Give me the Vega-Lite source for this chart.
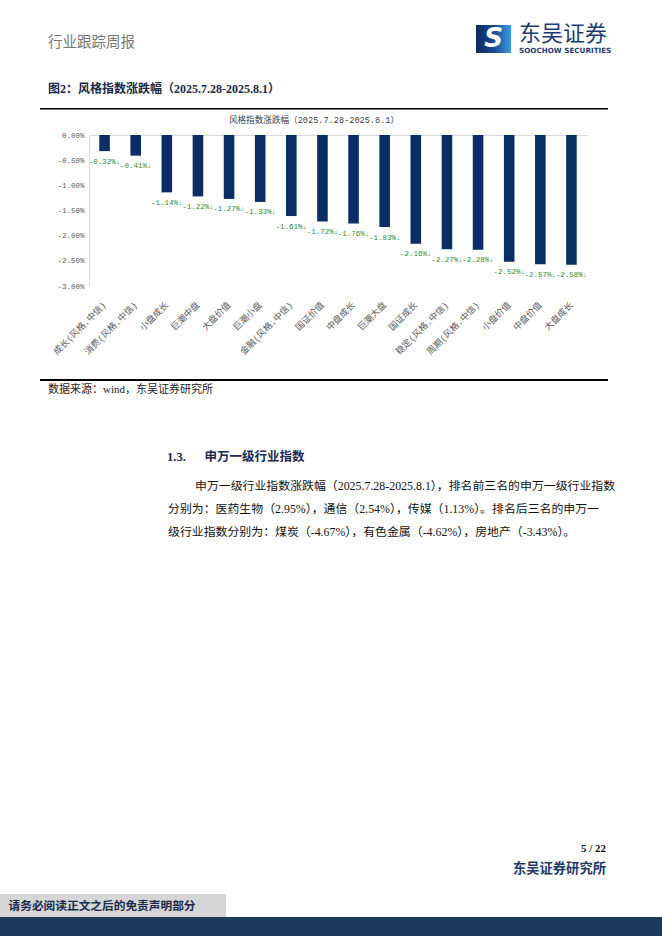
{
  "$schema": "https://vega.github.io/schema/vega-lite/v6.json",
  "padding": 0,
  "background": "#ffffff",
  "spacing": 0,
  "config": {
    "view": {"stroke": null},
    "locale": {"number": {"decimal": ".", "thousands": ",", "grouping": [3], "currency": ["", "%↓"], "minus": "-"}}
  },
  "vconcat": [
    {"hconcat": [
      {"width": 47, "height": 70, "data": {"values": []}, "mark": "text"},
      {"vconcat": [
        {"width": 429, "height": 33, "data": {"values": []}, "mark": "text"},
        {"width": 2, "height": 20, "data": {"values": [{"t": "行业跟踪周报"}]}, "mark": {"type": "text", "align": "left", "baseline": "middle", "font": "Noto Sans CJK SC", "fontSize": 14.5, "color": "#777777"}, "encoding": {"text": {"field": "t"}}}
      ], "spacing": 0, "bounds": "flush"},
      {"vconcat": [
        {"width": 35, "height": 25, "data": {"values": []}, "mark": "text"},
        {"width": 35, "height": 28, "data": {"values": [{"t": "S"}]}, "layer": [
          {"mark": {"type": "rect", "color": {"gradient": "linear", "x1": 0, "y1": 0, "x2": 1, "y2": 0, "stops": [{"offset": 0, "color": "#0d2a5e"}, {"offset": 0.5, "color": "#17488f"}, {"offset": 1, "color": "#3d9be0"}]}}, "encoding": {}},
          {"mark": {"type": "text", "align": "center", "baseline": "middle", "font": "DejaVu Sans", "fontSize": 26, "fontWeight": "bold", "fontStyle": "italic", "color": "#ffffff"}, "encoding": {"text": {"field": "t"}}}
        ]}
      ], "spacing": 0, "bounds": "flush"},
      {"width": 7, "height": 70, "data": {"values": []}, "mark": "text"},
      {"vconcat": [
        {"width": 2, "height": 22, "data": {"values": []}, "mark": "text"},
        {"width": 2, "height": 24, "data": {"values": [{"t": "东吴证券"}]}, "mark": {"type": "text", "align": "left", "baseline": "middle", "font": "Noto Sans CJK SC", "fontSize": 22, "color": "#1d3a73"}, "encoding": {"text": {"field": "t"}}},
        {"width": 2, "height": 10, "data": {"values": [{"t": "SOOCHOW SECURITIES"}]}, "mark": {"type": "text", "align": "left", "baseline": "middle", "font": "DejaVu Sans", "fontSize": 7.2, "fontWeight": "bold", "color": "#1d3a73"}, "encoding": {"text": {"field": "t"}}}
      ], "spacing": 0, "bounds": "flush"}
    ], "spacing": 0},
    {"hconcat": [
      {"width": 47, "height": 38, "data": {"values": []}, "mark": "text"},
      {"width": 2, "height": 38, "data": {"values": [{"t": "图2：风格指数涨跌幅（2025.7.28-2025.8.1）"}]}, "mark": {"type": "text", "align": "left", "baseline": "middle", "font": "Liberation Serif, Noto Sans CJK SC", "fontSize": 12, "fontWeight": "bold", "color": "#1a2846"}, "encoding": {"text": {"field": "t"}}}
    ], "spacing": 0, "bounds": "flush"},
    {"hconcat": [
      {"width": 40, "height": 1.5, "data": {"values": []}, "mark": "text"},
      {"width": 568, "height": 1.5, "data": {"values": [{"k": "rule"}]}, "mark": {"type": "rect", "color": "#000000"}, "encoding": {}}
    ], "spacing": 0, "bounds": "flush"},
    {"hconcat": [
      {"width": 313, "height": 20.75, "data": {"values": []}, "mark": "text"},
      {"width": 2, "height": 20.75, "data": {"values": [{"t": "风格指数涨跌幅（2025.7.28-2025.8.1）"}]}, "mark": {"type": "text", "align": "center", "baseline": "middle", "font": "Liberation Mono, Noto Sans CJK SC", "fontSize": 8.6, "color": "#404040"}, "encoding": {"text": {"field": "t"}}}
    ], "spacing": 0, "bounds": "flush"},
    {"hconcat": [
      {"width": 89, "height": 151, "data": {"values": []}, "mark": "text"},
      {
        "width": 498,
        "height": 151,
        "data": {"values": [
          {"style": "成长(风格.中信)", "change": -0.0032},
          {"style": "消费(风格.中信)", "change": -0.0041},
          {"style": "小盘成长", "change": -0.0114},
          {"style": "巨潮中盘", "change": -0.0122},
          {"style": "大盘价值", "change": -0.0127},
          {"style": "巨潮小盘", "change": -0.0133},
          {"style": "金融(风格.中信)", "change": -0.0161},
          {"style": "国证价值", "change": -0.0172},
          {"style": "中盘成长", "change": -0.0176},
          {"style": "巨潮大盘", "change": -0.0183},
          {"style": "国证成长", "change": -0.0216},
          {"style": "稳定(风格.中信)", "change": -0.0227},
          {"style": "周期(风格.中信)", "change": -0.0228},
          {"style": "小盘价值", "change": -0.0252},
          {"style": "中盘价值", "change": -0.0257},
          {"style": "大盘成长", "change": -0.0258}
        ]},
        "encoding": {
          "x": {"field": "style", "type": "nominal", "sort": null, "scale": {"paddingInner": 0.66, "paddingOuter": 0.33},
            "axis": {"title": null, "domain": false, "ticks": false, "labelAngle": -45, "labelAlign": "right", "labelBaseline": "middle", "labelFont": "Liberation Mono, Noto Sans CJK SC", "labelFontSize": 9, "labelColor": "#595959", "labelPadding": 17, "labelDx": 4, "labelOverlap": false, "labelLimit": 200}},
          "y": {"field": "change", "type": "quantitative", "scale": {"domain": [-0.03, 0], "nice": false},
            "axis": {"title": null, "values": [0, -0.005, -0.01, -0.015, -0.02, -0.025, -0.03], "format": ".2%", "grid": true, "gridColor": "#d9d9d9", "gridOpacity": {"condition": {"test": "datum.value === 0", "value": 1}, "value": 0}, "ticks": false, "domainColor": "#d9d9d9", "labelFont": "Liberation Mono", "labelFontSize": 7.5, "labelColor": "#595959", "labelPadding": 5, "labelOverlap": false}}
        },
        "layer": [
          {"mark": {"type": "bar", "color": "#0a2d63"}},
          {
            "mark": {"type": "text", "align": "center", "baseline": "middle", "dy": 10.5, "font": "Liberation Mono, Noto Sans CJK SC", "fontSize": 7.5, "color": "#2e8b2e"},
            "encoding": {
              "text": {"field": "change", "type": "quantitative", "format": "$.2%"}
            }
          }
        ]
      }
    ], "spacing": 0, "bounds": "flush"},
    {"width": 10, "height": 21.5, "data": {"values": []}, "mark": "text"},
    {"hconcat": [
      {"width": 40, "height": 2, "data": {"values": []}, "mark": "text"},
      {"width": 568, "height": 2, "data": {"values": [{"k": "rule"}]}, "mark": {"type": "rect", "color": "#000000"}, "encoding": {}}
    ], "spacing": 0, "bounds": "flush"},
    {"hconcat": [
      {"width": 47, "height": 17, "data": {"values": []}, "mark": "text"},
      {"width": 2, "height": 17, "data": {"values": [{"t": "数据来源：wind，东吴证券研究所"}]}, "mark": {"type": "text", "align": "left", "baseline": "middle", "font": "Liberation Serif, Noto Sans CJK SC", "fontSize": 11, "color": "#222222"}, "encoding": {"text": {"field": "t"}}}
    ], "spacing": 0, "bounds": "flush"},
    {"width": 10, "height": 48.5, "data": {"values": []}, "mark": "text"},
    {"hconcat": [
      {"width": 166, "height": 20, "data": {"values": []}, "mark": "text"},
      {"width": 2, "height": 20, "data": {"values": [{"t": "1.3.\u2003\u2002申万一级行业指数"}]}, "mark": {"type": "text", "align": "left", "baseline": "middle", "font": "Liberation Serif, Noto Sans CJK SC", "fontSize": 12.5, "fontWeight": "bold", "color": "#1b2a50"}, "encoding": {"text": {"field": "t"}}}
    ], "spacing": 0, "bounds": "flush"},
    {"width": 10, "height": 8, "data": {"values": []}, "mark": "text"},
    {"hconcat": [
      {"width": 194, "height": 22, "data": {"values": []}, "mark": "text"},
      {"width": 2, "height": 22, "data": {"values": [{"t": "申万一级行业指数涨跌幅（2025.7.28-2025.8.1），排名前三名的申万一级行业指数"}]}, "mark": {"type": "text", "align": "left", "baseline": "middle", "font": "Liberation Serif, Noto Sans CJK SC", "fontSize": 11.9, "color": "#111111"}, "encoding": {"text": {"field": "t"}}}
    ], "spacing": 0, "bounds": "flush"},
    {"hconcat": [
      {"width": 167, "height": 23, "data": {"values": []}, "mark": "text"},
      {"width": 2, "height": 23, "data": {"values": [{"t": "分别为：医药生物（2.95%），通信（2.54%），传媒（1.13%）。排名后三名的申万一"}]}, "mark": {"type": "text", "align": "left", "baseline": "middle", "font": "Liberation Serif, Noto Sans CJK SC", "fontSize": 11.9, "color": "#111111"}, "encoding": {"text": {"field": "t"}}}
    ], "spacing": 0, "bounds": "flush"},
    {"hconcat": [
      {"width": 167, "height": 23, "data": {"values": []}, "mark": "text"},
      {"width": 2, "height": 23, "data": {"values": [{"t": "级行业指数分别为：煤炭（-4.67%），有色金属（-4.62%），房地产（-3.43%）。"}]}, "mark": {"type": "text", "align": "left", "baseline": "middle", "font": "Liberation Serif, Noto Sans CJK SC", "fontSize": 11.9, "color": "#111111"}, "encoding": {"text": {"field": "t"}}}
    ], "spacing": 0, "bounds": "flush"},
    {"width": 10, "height": 296, "data": {"values": []}, "mark": "text"},
    {"hconcat": [
      {"width": 605, "height": 20, "data": {"values": []}, "mark": "text"},
      {"width": 2, "height": 20, "data": {"values": [{"t": "5 / 22"}]}, "mark": {"type": "text", "align": "right", "baseline": "middle", "font": "Liberation Serif", "fontSize": 11, "fontWeight": "bold", "color": "#111111"}, "encoding": {"text": {"field": "t"}}}
    ], "spacing": 0, "bounds": "flush"},
    {"hconcat": [
      {"width": 605, "height": 20, "data": {"values": []}, "mark": "text"},
      {"width": 2, "height": 20, "data": {"values": [{"t": "东吴证券研究所"}]}, "mark": {"type": "text", "align": "right", "baseline": "middle", "font": "Noto Sans CJK SC", "fontSize": 13.3, "fontWeight": "bold", "color": "#1f3a66"}, "encoding": {"text": {"field": "t"}}}
    ], "spacing": 0, "bounds": "flush"},
    {"width": 10, "height": 15, "data": {"values": []}, "mark": "text"},
    {"hconcat": [
      {"width": 204, "height": 23, "data": {"values": [{"t": "请务必阅读正文之后的免责声明部分"}]}, "layer": [
        {"mark": {"type": "rect", "color": "#d6d6d6"}, "encoding": {}},
        {"mark": {"type": "text", "align": "center", "baseline": "middle", "font": "Noto Sans CJK SC", "fontSize": 11.7, "fontWeight": "bold", "color": "#1b2a4a"}, "encoding": {"text": {"field": "t"}}}
      ]},
      {"width": 22, "height": 23, "data": {"values": [{"k": "box"}]}, "mark": {"type": "rect", "color": "#d6d6d6"}, "encoding": {}}
    ], "spacing": 0, "bounds": "flush"},
    {"width": 662, "height": 20, "data": {"values": [{"k": "bar"}]}, "mark": {"type": "rect", "color": "#1b3a5c"}, "encoding": {}}
  ]
}
